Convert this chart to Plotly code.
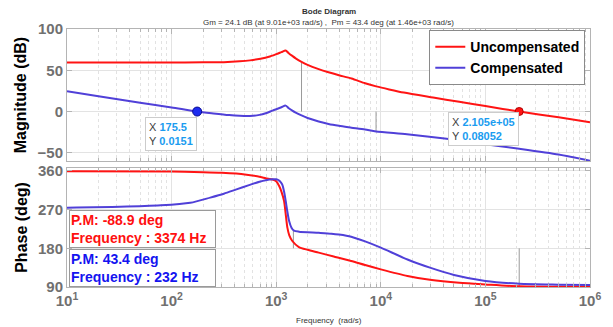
import math
import plotly.graph_objects as go

# ---------------- data ----------------
w_unc_mag = [10, 100, 200, 316, 447, 562, 708, 851, 1000, 1122, 1230, 1318, 1426, 1535, 1746, 1995,
             2547, 3162, 3981, 5248, 7079, 9036, 12023, 16596, 31623, 56234, 100000, 210500, 501187, 1000000]
unc_mag = [59.4, 59.4, 59.6, 59.8, 60.8, 62.0, 64.0, 66.3, 69.5, 72.0, 74.0, 70.7, 67.4, 64.5, 60.3, 56.6,
           51.4, 47.6, 44.0, 40.0, 34.3, 30.5, 26.8, 23.0, 17.0, 11.8, 6.6, 0.08, -7.0, -12.9]

w_cmp_mag = [10, 20, 50, 100, 175.5, 251, 355, 447, 562, 692, 794, 923, 1000, 1122, 1230, 1318, 1426,
             1535, 1746, 1995, 2547, 3162, 3981, 5248, 7079, 9010, 17783, 42658, 100000, 210500, 501187, 1000000]
cmp_mag = [24.5, 18.6, 10.8, 5.0, 0.0151, -2.3, -4.3, -5.2, -5.4, -4.0, -2.0, 1.2, 2.8, 5.2, 7.2, 4.0, 1.1,
           -1.3, -4.7, -7.8, -12.0, -15.0, -17.3, -19.5, -21.8, -24.1, -27.5, -33.0, -39.5, -45.0, -52.0, -59.5]

w_unc_ph = [10, 100, 200, 302, 501, 708, 794, 923, 1000, 1067, 1122, 1189, 1230, 1279, 1334, 1426, 1648,
            1995, 2547, 3548, 5212, 7079, 10000, 17989, 29512, 56234, 100000, 210500, 501187, 1000000]
unc_ph = [359.5, 358.5, 357.0, 355.5, 352.0, 346.0, 343.0, 340.0, 336.0, 325.0, 312.0, 290.0, 262.0, 228.0,
          210.0, 197.0, 183.0, 176.5, 170.0, 161.0, 150.5, 141.0, 131.0, 115.6, 107.0, 100.0, 96.0, 91.5,
          90.6, 90.3]

w_cmp_ph = [10, 32, 79, 151, 234, 316, 417, 550, 692, 794, 923, 1000, 1059, 1112, 1148, 1189, 1233, 1279,
            1327, 1400, 1479, 1648, 2547, 3373, 3981, 5212, 7079, 10000, 17989, 29512, 50119, 100000, 210500,
            501187, 1000000]
cmp_ph = [274.6, 276.5, 280.0, 286.0, 298.0, 307.0, 317.0, 327.0, 335.0, 338.5, 340.6, 340.5, 338.0, 333.0,
          327.0, 312.0, 290.0, 265.0, 244.0, 228.0, 221.0, 218.7, 216.0, 214.0, 212.0, 207.0, 196.0, 181.5,
          154.0, 135.0, 118.0, 104.0, 97.5, 95.5, 94.5]

gm_w = [1746, 9010]          # gain-margin marker frequencies
gm_db = [59.4, -24.1]        # magnitude at those frequencies
pm_w = [210500, 1460]        # phase-margin marker frequencies
pm_deg = [91.1, 223.4]       # phase at those frequencies

tip_w = [175.5, 210500]
tip_db = [0.0151, 0.08052]
tip_text_x = ["175.5", "2.105e+05"]
tip_text_y = ["0.0151", "0.08052"]

x_tick_vals = [1e1, 1e2, 1e3, 1e4, 1e5, 1e6]
x_tick_text = ["10<sup>1</sup>", "10<sup>2</sup>", "10<sup>3</sup>", "10<sup>4</sup>", "10<sup>5</sup>", "10<sup>6</sup>"]
x_minor_vals = [m * 10 ** d for d in range(1, 6) for m in range(2, 10)]
mag_ticks = [-50, 0, 50, 100]
ph_ticks = [90, 180, 270, 360]

series_names = ["Uncompensated", "Compensated"]
title_lines = ["Bode Diagram",
               "Gm = 24.1 dB (at 9.01e+03 rad/s) ,  Pm = 43.4 deg (at 1.46e+03 rad/s)"]
x_title = "Frequency  (rad/s)"
pm_box_red = ["P.M: -88.9 deg", "Frequency : 3374 Hz"]
pm_box_blue = ["P.M: 43.4 deg", "Frequency : 232 Hz"]

# ---------------- styles ----------------
RED = "#ff1414"
BLUE = "#5040d8"
TXT_BLUE = "#1414f0"
GRID = "#e3e3e3"
FRAME = "#b4b4b4"
TICKC = "#707070"
FONT = "Liberation Sans, Arial, sans-serif"
LINE = dict(width=2, shape="spline", smoothing=0.7)

fig = go.Figure()

# margin marker lines
for w, v in zip(gm_w, gm_db):
    fig.add_trace(go.Scatter(x=[w, w], y=[0, v], mode="lines", line=dict(color="#9a9a9a", width=1),
                             showlegend=False, hoverinfo="skip", xaxis="x", yaxis="y"))
for w, v in zip(pm_w, pm_deg):
    fig.add_trace(go.Scatter(x=[w, w], y=[180, v], mode="lines", line=dict(color="#9a9a9a", width=1),
                             showlegend=False, hoverinfo="skip", xaxis="x2", yaxis="y2"))

fig.add_trace(go.Scatter(x=w_unc_mag, y=unc_mag, mode="lines", name=series_names[0],
                         line=dict(color=RED, **LINE), xaxis="x", yaxis="y"))
fig.add_trace(go.Scatter(x=w_cmp_mag, y=cmp_mag, mode="lines", name=series_names[1],
                         line=dict(color=BLUE, **LINE), xaxis="x", yaxis="y"))
fig.add_trace(go.Scatter(x=w_unc_ph, y=unc_ph, mode="lines", showlegend=False,
                         line=dict(color=RED, **LINE), xaxis="x2", yaxis="y2"))
fig.add_trace(go.Scatter(x=w_cmp_ph, y=cmp_ph, mode="lines", showlegend=False,
                         line=dict(color=BLUE, **LINE), xaxis="x2", yaxis="y2"))

# data tip markers
fig.add_trace(go.Scatter(x=[tip_w[0]], y=[tip_db[0]], mode="markers", showlegend=False,
                         marker=dict(color="#1d2cf0", size=9, symbol="circle",
                                     line=dict(color="#0a0a90", width=1)),
                         xaxis="x", yaxis="y"))
fig.add_trace(go.Scatter(x=[tip_w[1]], y=[tip_db[1]], mode="markers", showlegend=False,
                         marker=dict(color=RED, size=8, symbol="circle",
                                     line=dict(color="#b00000", width=1)),
                         xaxis="x", yaxis="y"))

axis_common = dict(
    type="log", range=[1, 6], showgrid=True, gridcolor=GRID, gridwidth=1,
    showline=True, linecolor=FRAME, linewidth=1, mirror="ticks",
    ticks="inside", ticklen=5, tickcolor=FRAME,
    tickvals=x_tick_vals, ticktext=x_tick_text, zeroline=False,
    minor=dict(tickvals=x_minor_vals, ticks="inside", ticklen=3, tickcolor=FRAME,
               showgrid=True, gridcolor="#e2e2e2", griddash="dot", gridwidth=1),
)
yfont = dict(size=15, color=TICKC, family=FONT, weight="bold")

# the page body has an 8px margin, so the figure is 8px smaller and margins shifted by 8
fig.update_layout(
    width=605, height=319,
    margin=dict(l=57, r=18, t=19, b=40),
    paper_bgcolor="white", plot_bgcolor="white",
    font=dict(family=FONT),
    xaxis=dict(domain=[0, 1], anchor="y", showticklabels=False, **axis_common),
    xaxis2=dict(domain=[0, 1], anchor="y2", matches="x", showticklabels=True,
                tickfont=yfont, **axis_common),
    yaxis=dict(domain=[0.488, 1.0], range=[-60, 100], tickvals=mag_ticks,
               showgrid=True, gridcolor=GRID, zeroline=False,
               showline=True, linecolor=FRAME, mirror="ticks", ticks="inside", ticklen=5, tickcolor=FRAME,
               tickfont=yfont,
               title=dict(text="Magnitude (dB)", standoff=6,
                          font=dict(size=16, color="black", family=FONT, weight="bold"))),
    yaxis2=dict(domain=[0, 0.4615], range=[90, 367], tickvals=ph_ticks,
                showgrid=True, gridcolor=GRID, zeroline=False,
                showline=True, linecolor=FRAME, mirror="ticks", ticks="inside", ticklen=5, tickcolor=FRAME,
                tickfont=yfont,
                title=dict(text="Phase (deg)", standoff=6,
                           font=dict(size=16, color="black", family=FONT, weight="bold"))),
    legend=dict(x=0.991, y=0.996, xanchor="right", yanchor="top",
                bgcolor="white", bordercolor="#8a8a8a", borderwidth=1,
                font=dict(size=14, color="black", family=FONT, weight="bold"),
                itemwidth=30, tracegroupgap=0),
    showlegend=True,
)

annotations = [
    dict(text="<b>" + title_lines[0] + "</b>", x=0.5, y=1.066, xref="paper", yref="paper",
         showarrow=False, font=dict(size=8, color="#333"), xanchor="center", yanchor="middle"),
    dict(text=title_lines[1], x=0.5, y=1.024, xref="paper", yref="paper",
         showarrow=False, font=dict(size=8, color="#333"), xanchor="center", yanchor="middle"),
    dict(text=x_title, x=0.5, y=-0.131, xref="paper", yref="paper",
         showarrow=False, font=dict(size=8, color="#333"), xanchor="center", yanchor="middle"),
]

# data tips
for i, (xs, ys) in enumerate(zip(tip_text_x, tip_text_y)):
    annotations.append(dict(
        text=("<span style='color:#404040'>X</span> <b><span style='color:#1a9cf0'>%s</span></b><br>"
              "<span style='color:#404040'>Y</span> <b><span style='color:#1a9cf0'>%s</span></b>") % (xs, ys),
        x=math.log10(tip_w[i]), y=tip_db[i], xref="x", yref="y", showarrow=False,
        xanchor="right", yanchor="top", yshift=-5 if i == 0 else -1, align="left",
        font=dict(size=11, family=FONT), bgcolor="white", bordercolor="#cccccc",
        borderwidth=1, borderpad=3))

# phase-margin text boxes
annotations.append(dict(
    text="<b>%s<br>%s</b>" % tuple(pm_box_red), x=0.004, y=0.30, xref="paper", yref="paper",
    showarrow=False, xanchor="left", yanchor="top", align="left", width=143,
    font=dict(size=14, color="#ff1010", family=FONT), bgcolor="white",
    bordercolor="#9a9a9a", borderwidth=1, borderpad=1))
annotations.append(dict(
    text="<b>%s<br>%s</b>" % tuple(pm_box_blue), x=0.004, y=0.0, xref="paper", yref="paper",
    showarrow=False, xanchor="left", yanchor="bottom", align="left", width=143,
    font=dict(size=14, color=TXT_BLUE, family=FONT), bgcolor="white",
    bordercolor="#9a9a9a", borderwidth=1, borderpad=1))

fig.update_layout(annotations=annotations)

fig.write_html("out.html")
